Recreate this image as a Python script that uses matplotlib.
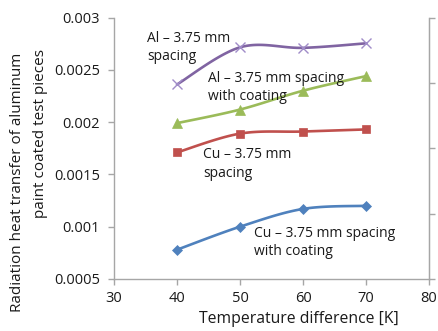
import numpy as np
import matplotlib
matplotlib.use("Agg")
import matplotlib.pyplot as plt

plt.rcParams['font.family'] = ['Open Sans', 'DejaVu Sans']

temps = [40, 50, 60, 70]
al_spacing = [0.00236, 0.002715, 0.00271, 0.002753]
al_coating = [0.00199, 0.00212, 0.00230, 0.00244]
cu_spacing = [0.00171, 0.00189, 0.00191, 0.00193]
cu_coating = [0.00078, 0.00100, 0.00117, 0.00120]

labels = ["Al – 3.75 mm\nspacing", "Al – 3.75 mm spacing\nwith coating",
          "Cu – 3.75 mm\nspacing", "Cu – 3.75 mm spacing\nwith coating"]
xticks = [30, 40, 50, 60, 70, 80]
yticks = [0.0005, 0.001, 0.0015, 0.002, 0.0025, 0.003]
ytick_labels = ["0.0005", "0.001", "0.0015", "0.002", "0.0025", "0.003"]


def smooth(x, y, n=30):
    # Excel-style smoothed line (cubic Bezier, Catmull-Rom control points)
    x = np.asarray(x, float); y = np.asarray(y, float)
    px = np.concatenate([[x[0]], x, [x[-1]]])
    py = np.concatenate([[y[0]], y, [y[-1]]])
    xs, ys = [], []
    t = np.linspace(0, 1, n)
    for i in range(1, len(px) - 2):
        p0 = np.array([px[i], py[i]]); p3 = np.array([px[i + 1], py[i + 1]])
        c1 = p0 + (np.array([px[i + 1], py[i + 1]]) - np.array([px[i - 1], py[i - 1]])) / 6
        c2 = p3 - (np.array([px[i + 2], py[i + 2]]) - np.array([px[i], py[i]])) / 6
        b = ((1 - t) ** 3)[:, None] * p0 + (3 * (1 - t) ** 2 * t)[:, None] * c1 + \
            (3 * (1 - t) * t ** 2)[:, None] * c2 + (t ** 3)[:, None] * p3
        xs.extend(b[:, 0]); ys.extend(b[:, 1])
    return np.array(xs), np.array(ys)


fig = plt.figure(figsize=(4.38, 3.31), dpi=100)
ax = fig.add_axes([0.2603, 0.1571, 0.7192, 0.79])

gray = '#A6A6A6'
txt = '#1a1a1a'

series = [
    (al_spacing, '#8064A2', 'x', 6.5, '#A08CC8'),
    (al_coating, '#9BBB59', '^', 7.5, '#9BBB59'),
    (cu_spacing, '#C0504D', 's', 6.3, '#C0504D'),
    (cu_coating, '#4F81BD', 'D', 5.3, '#4F81BD'),
]
for vals, col, mk, ms, mcol in series:
    sx, sy = smooth(temps, vals)
    ax.plot(sx, sy, color=col, lw=1.9, solid_capstyle='round', zorder=2)
    ax.plot(temps, vals, linestyle='none', marker=mk, ms=ms, color=mcol,
            markeredgecolor=mcol, mew=1.0 if mk == 'x' else 0.5, zorder=3)

ax.set_xlim(30, 80)
ax.set_ylim(0.0005, 0.003)
ax.set_xticks(xticks)
ax.set_xticklabels([str(v) for v in xticks])
ax.set_yticks(yticks)
ax.set_yticklabels(ytick_labels)
ax.tick_params(axis='both', colors=gray, labelcolor=txt, labelsize=10.5,
               direction='out', length=4, width=1)
ax.tick_params(axis='y', pad=6)
ax.tick_params(axis='x', pad=5)
for s in ['top']:
    ax.spines[s].set_visible(False)
for s in ['left', 'bottom', 'right']:
    ax.spines[s].set_color(gray)
    ax.spines[s].set_linewidth(1)

ax2 = ax.twinx()
ax2.set_ylim(0, 4)
ax2.set_yticks([0, 1, 2, 3, 4])
ax2.set_yticklabels([])
ax2.tick_params(axis='y', colors=gray, direction='out', length=4, width=1)
for s in ['top', 'left', 'bottom']:
    ax2.spines[s].set_visible(False)
ax2.spines['right'].set_color(gray)

fs = 10
ax.text(35.2, 0.00287, labels[0], fontsize=fs, color=txt, va='top', ha='left', linespacing=1.3)
ax.text(44.9, 0.00249, labels[1], fontsize=fs, color=txt, va='top', ha='left', linespacing=1.3)
ax.text(44.1, 0.00176, labels[2], fontsize=fs, color=txt, va='top', ha='left', linespacing=1.3)
ax.text(52.2, 0.00101, labels[3], fontsize=fs, color=txt, va='top', ha='left', linespacing=1.3)

fig.text(18 / 438, 1 - 182 / 331, "Radiation heat transfer of aluminum",
         rotation=90, ha='center', va='center', fontsize=11, color=txt)
fig.text(41 / 438, 1 - 133 / 331, "paint coated test pieces",
         rotation=90, ha='center', va='center', fontsize=11, color=txt)
fig.text(299 / 438, 1 - 319 / 331, "Temperature difference [K]",
         ha='center', va='center', fontsize=11.3, color=txt)

fig.savefig('out.png', dpi=100)
